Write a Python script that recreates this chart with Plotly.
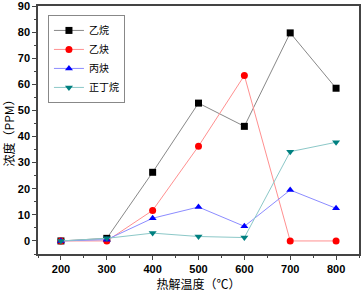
import plotly.graph_objects as go

temps = [200, 300, 400, 500, 600, 700, 800]
ethane = [0, 1, 26.3, 52.8, 43.9, 79.7, 58.5]
acetylene = [0, 0, 11.7, 36.3, 63.4, 0, 0]
propyne = [0, 0.5, 8.7, 13, 5.6, 19.5, 12.5]
butane = [0, 1, 3, 1.7, 1.3, 34.2, 37.8]
y_ticks = [0, 10, 20, 30, 40, 50, 60, 70, 80, 90]

names = ["乙烷", "乙炔", "丙炔", "正丁烷"]
series = [ethane, acetylene, propyne, butane]
line_colors = ["#888888", "#ff9090", "#8c8cff", "#8cc8c8"]
marker_colors = ["#000000", "#ff0000", "#0000ff", "#008080"]
symbols = ["square", "circle", "triangle-up", "triangle-down"]

fig = go.Figure()
for n, s, lc, mc, sym in zip(names, series, line_colors, marker_colors, symbols):
    fig.add_trace(go.Scatter(
        x=temps, y=s, name=n, mode="lines+markers",
        line=dict(color=lc, width=1),
        marker=dict(color=mc, symbol=sym, size=7),
    ))

axis_common = dict(
    showline=True, linecolor="#444444", linewidth=1.5, mirror=True,
    ticks="outside", ticklen=4, tickwidth=1, tickcolor="#444444",
    showgrid=False, zeroline=False,
    tickfont=dict(family="Liberation Sans, Arial", size=11, color="#000000", weight="bold"),
)

fig.update_xaxes(range=[150, 850], tickvals=temps,
                 minor=dict(ticks="outside", ticklen=2, dtick=50, tick0=150, tickcolor="#444444"),
                 title=dict(text="热解温度（℃）", font=dict(family="Noto Sans CJK SC", size=12, color="#000"), standoff=6),
                 **axis_common)
fig.update_yaxes(range=[-5, 90], tickvals=y_ticks,
                 minor=dict(ticks="outside", ticklen=2, dtick=5, tick0=0, tickcolor="#444444"),
                 title=dict(text="浓度（PPM）", font=dict(family="Noto Sans CJK SC", size=12, color="#000"), standoff=4),
                 ticklabeloverflow="allow",
                 **axis_common)

fig.update_layout(
    width=363, height=292,
    margin=dict(l=38, r=4, t=6, b=38, autoexpand=False),
    plot_bgcolor="white", paper_bgcolor="white",
    showlegend=True,
    legend=dict(x=0.031, y=0.964, xanchor="left", yanchor="top",
                bgcolor="white", bordercolor="#888888", borderwidth=1,
                font=dict(family="Noto Sans CJK SC", size=10, color="#000"),
                tracegroupgap=0, itemwidth=30),
)

fig.write_html("out.html", config={"displayModeBar": False},
               post_script="document.body.style.margin='0';document.body.style.overflow='hidden';")
